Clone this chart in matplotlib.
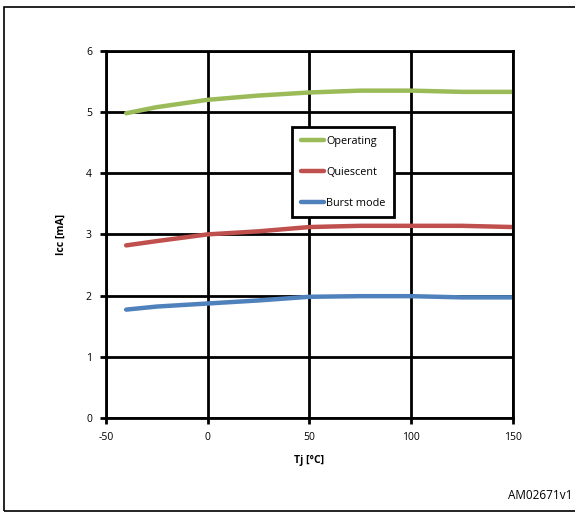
import matplotlib
matplotlib.use("Agg")
import matplotlib.pyplot as plt
from matplotlib.patches import Rectangle

tj = [-40, -25, 0, 25, 50, 75, 100, 125, 150]
operating = [4.98, 5.08, 5.20, 5.27, 5.32, 5.35, 5.35, 5.33, 5.33]
quiescent = [2.82, 2.89, 3.00, 3.05, 3.12, 3.14, 3.14, 3.14, 3.12]
burst = [1.77, 1.82, 1.87, 1.92, 1.98, 1.99, 1.99, 1.97, 1.97]

x_ticks = [-50, 0, 50, 100, 150]
y_ticks = [0, 1, 2, 3, 4, 5, 6]

plt.rcParams['font.family'] = ['Open Sans', 'DejaVu Sans']
plt.rcParams['axes.unicode_minus'] = False

fig = plt.figure(figsize=(5.75, 5.14), dpi=100)
ax = fig.add_axes([0.184, 0.187, 0.708, 0.714])

ax.plot(tj, operating, color='#9bbb59', lw=3.2, label='Operating', solid_capstyle='round')
ax.plot(tj, quiescent, color='#c0504d', lw=3.2, label='Quiescent', solid_capstyle='round')
ax.plot(tj, burst, color='#4f81bd', lw=3.2, label='Burst mode', solid_capstyle='round')

ax.set_xlim(-50, 150)
ax.set_ylim(0, 6)
ax.set_xticks(x_ticks)
ax.set_yticks(y_ticks)
ax.grid(True, color='black', lw=2)
ax.set_axisbelow(True)
for s in ax.spines.values():
    s.set_linewidth(2)
ax.tick_params(labelsize=7.5, width=2, length=4, direction='out', pad=6)

ax.set_xlabel('Tj [°C]', fontsize=7.5, fontweight='bold', labelpad=9)
ax.set_ylabel('Icc [mA]', fontsize=7.5, fontweight='bold', labelpad=14)

leg = ax.legend(loc='upper left', bbox_to_anchor=(0.457, 0.793), fontsize=7.8,
                frameon=True, fancybox=False, edgecolor='black', handlelength=2.2,
                handletextpad=0.15, labelspacing=1.85, borderpad=0.8, borderaxespad=0)
leg.get_frame().set_linewidth(2)
leg.get_frame().set_alpha(1)

fig.patches.append(Rectangle((0.007, 0.006), 1.2, 0.981, transform=fig.transFigure,
                             fill=False, edgecolor='black', lw=1.2))
fig.text(0.995, 0.023, 'AM02671v1', ha='right', va='bottom', fontsize=8.5)

fig.savefig('out.png', dpi=100)
